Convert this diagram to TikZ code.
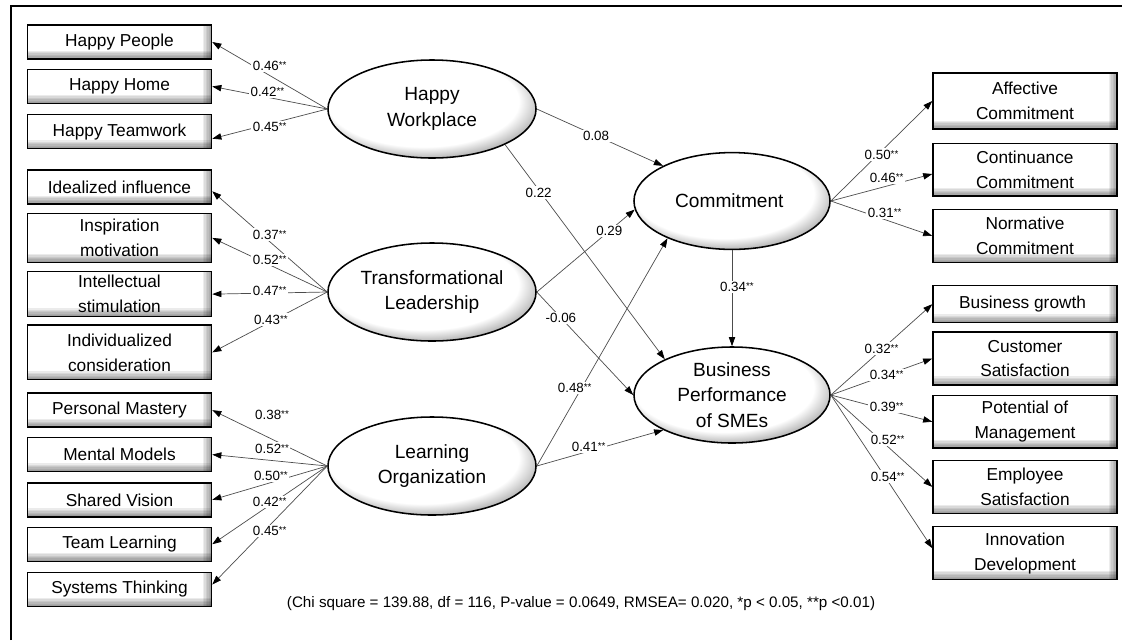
\documentclass[tikz,border=0pt]{standalone}
\usepackage{fontspec}
\setmainfont{Liberation Sans}
\usetikzlibrary{positioning, arrows.meta, shapes.geometric}

\newcommand\boxfont{\fontsize{12.3}{17.7}\selectfont}
\newcommand\latentfont{\fontsize{13.6}{18.2}\selectfont}
\newcommand\coeffont{\fontsize{9.5}{10}\selectfont}
\newcommand\stars{\raisebox{1.4pt}{\fontsize{7}{7}\selectfont **}}

\pgfdeclareradialshading{latentshade}{\pgfpoint{-4bp}{7bp}}{%
  color(0bp)=(white); color(23bp)=(white); color(33bp)=(black!55); color(50bp)=(black!55)}

\begin{document}
\begin{tikzpicture}[
    x=0.025cm, y=-0.025cm,
    box/.style={
        rectangle,
        draw,
        line width=1pt,
        minimum width=4.6cm,
        minimum height=0.85cm,
        inner sep=1pt,
        align=center,
        font=\boxfont,
        path picture={
            \foreach \s in {1,...,6} {
                \fill[black, opacity=.07]
                    ([xshift=-\s pt]path picture bounding box.north east)
                    rectangle (path picture bounding box.south east);
                \fill[black, opacity=.08]
                    ([yshift=\s pt]path picture bounding box.south west)
                    rectangle (path picture bounding box.south east);
            }
        }
    },
    tallbox/.style={
        box,
        minimum height=1.32cm
    },
    latent/.style={
        ellipse,
        draw,
        line width=1.1pt,
        minimum width=5.2cm,
        minimum height=2.45cm,
        inner sep=0pt,
        align=center,
        font=\latentfont,
        shading=latentshade
    },
    arrow/.style={
        draw=black!70,
        line width=0.5pt,
        -{Triangle[length=6.5pt, width=4.5pt, color=black]}
    },
    coef/.style={
        fill=white,
        inner sep=1pt,
        font=\coeffont
    }
]

\useasboundingbox (0,0) rectangle (1122,640);
\draw[line width=0.9pt] (11,640) -- (11,6) -- (1122,6);

% Left indicators

\node[box] (hpeople) at (119.5,42) {Happy People};
\node[box, below=6.4pt of hpeople] (hhome) {Happy Home};
\node[box, below=7pt of hhome] (hteam) {Happy Teamwork};

\node[box, below=14.2pt of hteam] (ideal) {Idealized influence};
\node[box, below=5.7pt of ideal, minimum height=1.22cm] (inspire) {
Inspiration\\motivation
};
\node[box, below=5.7pt of inspire, minimum height=1.12cm] (intel) {
Intellectual\\stimulation
};
\node[box, below=5pt of intel, minimum height=1.37cm] (indiv) {
Individualized\\consideration
};

\node[box, below=8.5pt of indiv] (pmastery) {Personal Mastery};
\node[box, below=6.4pt of pmastery] (mmodels) {Mental Models};
\node[box, below=7pt of mmodels] (svision) {Shared Vision};
\node[box, below=6.4pt of svision] (tlearn) {Team Learning};
\node[box, below=7pt of tlearn] (sthink) {Systems Thinking};


% Right indicators

\node[tallbox, minimum height=1.4cm] (affect) at (1025,101) {
Affective\\Commitment
};
\node[tallbox, below=9.2pt of affect] (contin) {
Continuance\\Commitment
};
\node[tallbox, below=8.5pt of contin] (normat) {
Normative\\Commitment
};

\node[box, below=15.6pt of normat, minimum height=0.925cm] (bgrowth) {
Business growth
};
\node[tallbox, below=5.7pt of bgrowth] (custsat) {
Customer\\Satisfaction
};
\node[tallbox, below=6.4pt of custsat] (potman) {
Potential of\\Management
};
\node[tallbox, below=7.8pt of potman] (empsat) {
Employee\\Satisfaction
};
\node[tallbox, below=8.5pt of empsat] (innov) {
Innovation\\Development
};


% Latent variables

\node[latent] (hwork) at (432,109) {Happy\\Workplace};
\node[latent] (tlead) at (432,292) {Transformational\\Leadership};
\node[latent] (lorg) at (432,466) {Learning\\Organization};

\node[latent, minimum width=4.9cm, minimum height=2.42cm] (commit) at (732,201) {
Commitment
};
\node[latent, minimum width=4.9cm, minimum height=2.4cm] (bperf) at (732,395) {
Business\\Performance\\of SMEs
};


% Loadings, left

\draw[arrow] (hwork.west)--node[coef, pos=.5, yshift=7pt]{0.46\stars}(hpeople.east);
\draw[arrow] (hwork.west)--node[coef, pos=.52, yshift=3.5pt]{0.42\stars}(hhome.east);
\draw[arrow] (hwork.west)--node[coef, pos=.5, yshift=-2pt]{0.45\stars}([yshift=-5pt]hteam.east);

\draw[arrow] (tlead.west)--node[coef, pos=.5, yshift=5pt]{0.37\stars}([yshift=-3pt]ideal.east);
\draw[arrow] (tlead.west)--node[coef, pos=.5, yshift=3.5pt]{0.52\stars}(inspire.east);
\draw[arrow] (tlead.west)--node[coef, pos=.5, yshift=1.5pt]{0.47\stars}(intel.east);
\draw[arrow] (tlead.west)--node[coef, pos=.49, yshift=1.5pt]{0.43\stars}(indiv.east);

\draw[arrow] (lorg.west)--node[coef, pos=.48, yshift=17pt]{0.38\stars}(pmastery.east);
\draw[arrow] (lorg.west)--node[coef, pos=.48, yshift=8.5pt]{0.52\stars}(mmodels.east);
\draw[arrow] (lorg.west)--node[coef, pos=.49, yshift=5pt]{0.50\stars}(svision.east);
\draw[arrow] (lorg.west)--node[coef, pos=.5, yshift=2pt]{0.42\stars}(tlearn.east);
\draw[arrow] (lorg.west)--node[coef, pos=.5, yshift=-4.3pt]{0.45\stars}([yshift=3.5pt]sthink.east);


% Loadings, right

\draw[arrow] (commit.east)--node[coef, pos=.5, yshift=-2.5pt]{0.50\stars}(affect.west);
\draw[arrow] (commit.east)--node[coef, pos=.55, yshift=5.7pt]{0.46\stars}([yshift=-3pt]contin.west);
\draw[arrow] (commit.east)--node[coef, pos=.53, yshift=4.6pt]{0.31\stars}(normat.west);

\draw[arrow] (bperf.east)--node[coef, pos=.5, yshift=.7pt]{0.32\stars}(bgrowth.west);
\draw[arrow] (bperf.east)--node[coef, pos=.55]{0.34\stars}(custsat.west);
\draw[arrow] (bperf.east)--node[coef, pos=.55, yshift=2pt]{0.39\stars}(potman.west);
\draw[arrow] (bperf.east)--node[coef, pos=.56, yshift=5pt]{0.52\stars}(empsat.west);
\draw[arrow] (bperf.east)--node[coef, pos=.56, yshift=3pt]{0.54\stars}([yshift=3.5pt]innov.west);


% Structural paths

\draw[arrow] (hwork.east)--node[coef, pos=.47]{0.08}(commit.153);
\draw[arrow] (hwork.-26)--node[coef, pos=.21, yshift=-2pt]{0.22}(bperf.152);
\draw[arrow] (tlead.east)--node[coef, pos=.74]{0.29}(commit.185);
\draw[arrow] (tlead.east)--node[coef, pos=.25]{-0.06}(bperf.west);
\draw[arrow] (lorg.east)--node[coef, pos=.29, yshift=8.5pt]{0.48\stars}(commit.210);
\draw[arrow] (lorg.east)--node[coef, pos=.41, yshift=3pt]{0.41\stars}(bperf.207);
\draw[arrow] (commit.south)--node[coef, pos=.38, xshift=3.5pt]{0.34\stars}(bperf.north);


% Fit

\node[anchor=west, font=\fontsize{10.8}{12}\selectfont] (fit) at (282,604) {
(Chi square = 139.88, df = 116, P-value = 0.0649, RMSEA= 0.020, *p < 0.05, **p <0.01)
};

\end{tikzpicture}
\end{document}
